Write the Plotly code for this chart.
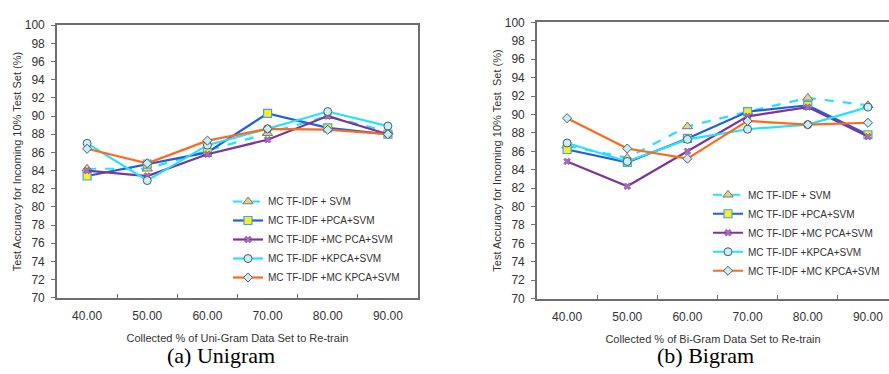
import plotly.graph_objects as go

# Fraction of the data set collected for re-training (x categories)
categories = ["40.00", "50.00", "60.00", "70.00", "80.00", "90.00"]
y_ticks = list(range(70, 101, 2))

series_names = [
    "MC TF-IDF + SVM",
    "MC TF-IDF +PCA+SVM",
    "MC TF-IDF +MC PCA+SVM",
    "MC TF-IDF +KPCA+SVM",
    "MC TF-IDF +MC KPCA+SVM",
]

# Unigram test accuracy (%)
uni_tfidf_svm = [84.2, 84.2, 86.2, 88.1, 90.0, 88.3]
uni_pca_svm = [83.4, 84.7, 86.0, 90.3, 88.7, 88.0]
uni_mcpca_svm = [84.0, 83.4, 85.8, 87.4, 90.0, 88.0]
uni_kpca_svm = [87.0, 82.9, 86.8, 88.6, 90.5, 88.9]
uni_mckpca_svm = [86.4, 84.8, 87.3, 88.6, 88.5, 88.0]

# Bigram test accuracy (%)
bi_tfidf_svm = [86.6, 85.3, 88.7, 90.3, 91.8, 91.0]
bi_pca_svm = [86.2, 84.8, 87.4, 90.3, 91.0, 87.8]
bi_mcpca_svm = [84.9, 82.2, 86.0, 89.8, 90.8, 87.6]
bi_kpca_svm = [86.9, 84.9, 87.3, 88.4, 88.9, 90.8]
bi_mckpca_svm = [89.6, 86.3, 85.2, 89.3, 88.9, 89.1]

# Per-series drawing style
styles = [
    dict(line=dict(color="#22e2ff", width=2.2, dash="dash"),
         marker=dict(symbol="triangle-up", size=9, color="#ddd595",
                     line=dict(color="#7a7a60", width=1))),
    dict(line=dict(color="#1f5fe8", width=2.2),
         marker=dict(symbol="square", size=8, color="#ffee10",
                     line=dict(color="#39a6ff", width=1.2))),
    dict(line=dict(color="#7d3598", width=2.2),
         marker=dict(symbol="x", size=6, color="#a070c0",
                     line=dict(color="#7d3598", width=0.5))),
    dict(line=dict(color="#22e2ff", width=2.2),
         marker=dict(symbol="circle", size=8, color="#c6f0f6",
                     line=dict(color="#505a60", width=1))),
    dict(line=dict(color="#ff6a1a", width=2.2),
         marker=dict(symbol="diamond", size=7, color="#c6eef4",
                     line=dict(color="#505a60", width=1))),
]

fig = go.Figure()

uni = [uni_tfidf_svm, uni_pca_svm, uni_mcpca_svm, uni_kpca_svm, uni_mckpca_svm]
bi = [bi_tfidf_svm, bi_pca_svm, bi_mcpca_svm, bi_kpca_svm, bi_mckpca_svm]

for name, vals, st in zip(series_names, uni, styles):
    fig.add_trace(go.Scatter(x=categories, y=vals, name=name, mode="lines+markers",
                             xaxis="x", yaxis="y", legend="legend", **st))
for name, vals, st in zip(series_names, bi, styles):
    fig.add_trace(go.Scatter(x=categories, y=vals, name=name, mode="lines+markers",
                             xaxis="x2", yaxis="y2", legend="legend2", **st))

W, H = 889, 374
tick_font = dict(family="Liberation Sans, Arial", size=12, color="#333333")
title_font = dict(family="Liberation Sans, Arial", size=11, color="#333333")
frame = "#6e6e6e"

def xaxis(domain, rng, title, anchor):
    return dict(domain=domain, range=rng, type="category", anchor=anchor,
                showline=True, linecolor=frame, linewidth=1.6, mirror=True,
                ticks="inside", tickson="boundaries", ticklen=4, tickcolor=frame,
                showgrid=False, zeroline=False, tickfont=tick_font,
                ticklabelstandoff=6,
                title=dict(text=title, font=title_font, standoff=12))

def yaxis(domain, title, anchor, mirror):
    return dict(domain=domain, range=[70, 100], anchor=anchor,
                tickvals=y_ticks, showline=True, linecolor=frame, linewidth=1.6,
                mirror=mirror, ticks="outside", ticklen=4, tickcolor=frame,
                showgrid=False, zeroline=False, tickfont=tick_font,
                ticklabelstandoff=4,
                title=dict(text=title, font=title_font, standoff=1))

legend_font = dict(family="Liberation Sans, Arial", size=10, color="#333333")

fig.update_layout(
    width=W, height=H,
    margin=dict(l=0, r=0, t=0, b=0),
    paper_bgcolor="white", plot_bgcolor="white",
    xaxis=xaxis([57 / W, 418 / W], [-0.5, 5.5],
                "Collected % of Uni-Gram Data Set to Re-train", "y"),
    yaxis=yaxis([1 - 302 / H, 1 - 19 / H],
                "Test Accuracy for Incoming 10% Test Set (%)", "x", True),
    xaxis2=xaxis([537 / W, 1.0], [-0.5, 5.35],
                 "Collected % of Bi-Gram Data Set to Re-train", "y2"),
    yaxis2=yaxis([1 - 303 / H, 1 - 16 / H],
                 "Test Accuracy for Incoming 10% Test  Set (%)", "x2", False),
    legend=dict(x=228 / W, y=1 - 187 / H, xanchor="left", yanchor="top",
                bgcolor="rgba(0,0,0,0)", font=legend_font, tracegroupgap=0),
    legend2=dict(x=708 / W, y=1 - 180 / H, xanchor="left", yanchor="top",
                 bgcolor="rgba(0,0,0,0)", font=legend_font, tracegroupgap=0),
    annotations=[
        dict(text="(a) Unigram", x=221 / W, y=1 - 362 / H, xref="paper", yref="paper",
             showarrow=False, xanchor="center", yanchor="middle",
             font=dict(family="Liberation Serif, Times New Roman", size=22, color="black")),
        dict(text="(b) Bigram", x=705 / W, y=1 - 362 / H, xref="paper", yref="paper",
             showarrow=False, xanchor="center", yanchor="middle",
             font=dict(family="Liberation Serif, Times New Roman", size=22, color="black")),
    ],
)

fig.write_html("out.html")
